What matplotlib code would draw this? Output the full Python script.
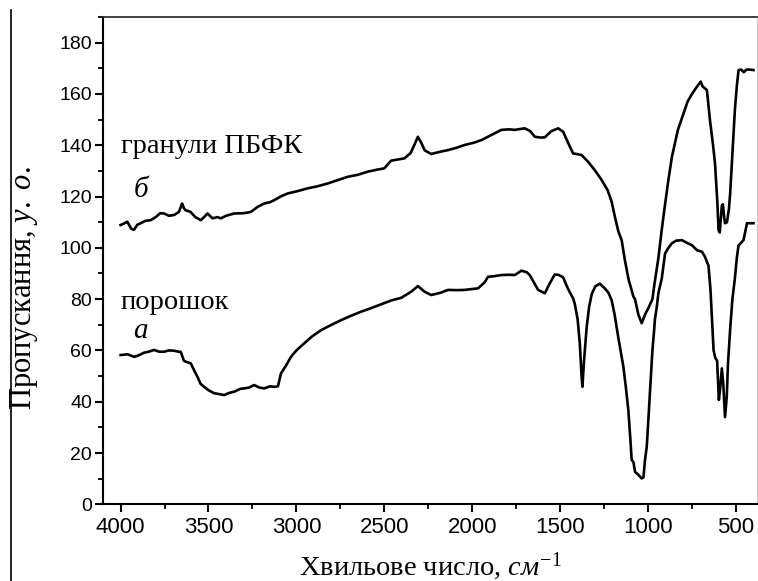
import matplotlib
matplotlib.use("Agg")
import matplotlib.pyplot as plt
from matplotlib.lines import Line2D
from matplotlib.ticker import MultipleLocator

# wavenumber (cm-1) / transmittance
wn_b = [4000, 3980, 3962, 3940, 3924, 3905, 3886, 3860, 3829, 3800, 3775, 3753, 3725, 3696,
        3668, 3650, 3640, 3631, 3602, 3575, 3544, 3525, 3506, 3477, 3450, 3430, 3400, 3354,
        3300, 3259, 3220, 3183, 3150, 3126, 3090, 3050, 3000, 2936, 2880, 2822, 2760, 2708,
        2650, 2594, 2540, 2500, 2461, 2420, 2385, 2350, 2330, 2309, 2290, 2270, 2233, 2180,
        2138, 2090, 2043, 1990, 1948, 1891, 1834, 1790, 1758, 1701, 1670, 1644, 1610, 1587,
        1550, 1511, 1483, 1455, 1426, 1400, 1378, 1340, 1303, 1264, 1230, 1207, 1188, 1169,
        1150, 1131, 1110, 1083, 1074, 1055, 1036, 1017, 998, 975, 961, 941, 922, 903, 884,
        864, 830, 800, 775, 750, 720, 700, 690, 665, 648, 630, 619, 605, 599, 592, 585, 580,
        574, 567, 562, 551, 540, 533, 520, 506, 495, 485, 470, 455, 440, 420, 400]
tr_b = [108.9, 109.5, 110.2, 107.5, 107, 109, 109.6, 110.5, 110.8, 112, 113.5, 113.4, 112.5, 112.8,
        114, 117.3, 115.5, 114.7, 114, 112, 110.8, 112, 113.4, 111.5, 112, 111.5, 112.5, 113.4,
        113.5, 114, 116, 117.3, 117.8, 118.6, 120, 121.2, 122, 123.2, 124, 125.1, 126.5, 127.7,
        128.5, 129.7, 130.5, 131, 134, 134.5, 134.9, 137, 140, 143.3, 141, 138, 136.6, 137.5,
        138.1, 139, 140.1, 141, 142, 144, 146, 146.2, 146, 146.6, 145.5, 143.3, 143, 143.1,
        145.5, 146.6, 145.3, 141, 136.8, 136.5, 136.2, 133.5, 130.3, 126.5, 122.5, 118, 112, 106.5,
        103, 95, 87.5, 81, 80, 74, 70.6, 74, 76.5, 80, 87, 96, 107, 117, 126.5,
        135.5, 146, 152, 157, 160, 163, 164.8, 163, 161.5, 150, 140, 133, 117, 107, 106, 112, 116.5,
        117, 112, 109.6, 110, 115, 121, 137, 153.7, 163, 169.3, 169.5, 168.5, 169.5, 169.5, 169.3]

wn_a = [4000, 3960, 3924, 3900, 3867, 3840, 3810, 3780, 3753, 3725, 3696, 3670, 3658, 3640,
        3629, 3601, 3580, 3563, 3545, 3525, 3500, 3468, 3440, 3411, 3380, 3354, 3320, 3297,
        3270, 3240, 3210, 3183, 3150, 3126, 3105, 3088, 3060, 3031, 3000, 2955, 2910, 2860,
        2800, 2746, 2690, 2632, 2575, 2518, 2460, 2404, 2347, 2309, 2271, 2233, 2180, 2138,
        2090, 2043, 1990, 1967, 1930, 1910, 1870, 1834, 1790, 1758, 1720, 1690, 1673, 1645,
        1625, 1605, 1587, 1560, 1531, 1510, 1483, 1455, 1426, 1417, 1400, 1388, 1378, 1373,
        1365, 1349, 1335, 1320, 1300, 1274, 1250, 1225, 1207, 1190, 1169, 1140, 1125, 1112,
        1100, 1093, 1083, 1074, 1055, 1036, 1026, 1017, 1007, 989, 975, 965, 961, 950, 941,
        922, 903, 884, 864, 840, 807, 780, 750, 720, 693, 676, 656, 645, 636, 627, 617, 607,
        597, 590, 580, 572, 562, 552, 545, 533, 520, 506, 495, 485, 470, 457, 445, 437, 420, 400]
tr_a = [58.2, 58.5, 57.5, 58, 59.1, 59.5, 60.2, 59.5, 59.5, 60, 59.9, 59.5, 59.5, 56,
        55.6, 55, 52, 49.7, 47, 45.8, 44.5, 43.3, 43, 42.6, 43.5, 43.9, 45, 45.2,
        45.5, 46.5, 45.5, 45.2, 46, 45.8, 46, 51, 54, 57.5, 60, 62.8, 65.5, 67.9,
        70, 71.8, 73.5, 75.1, 76.5, 78, 79.5, 80.5, 82.9, 85.1, 82.9, 81.6, 82.5, 83.6,
        83.5, 83.6, 84, 84.2, 86.5, 88.7, 89, 89.4, 89.5, 89.4, 91.1, 90.5, 89.4, 86,
        83.6, 82.9, 82.3, 86, 89.6, 89.5, 88.5, 84, 80.3, 78.3, 72, 62.7, 50, 45.8,
        55, 69, 77, 82, 85, 86, 84.5, 82.5, 79.6, 74, 65, 53.6, 45, 36.8,
        25, 17.3, 16.5, 12.7, 11.5, 10.1, 10.5, 17.3, 22.5, 43.3, 60, 68, 72, 77, 82.3,
        88, 97.8, 100, 101.8, 102.8, 103, 102, 101, 99, 98.5, 96.5, 93, 84, 72, 60, 57, 56,
        40.7, 45, 53, 47, 34, 42, 55, 68, 80, 88, 96, 101, 102, 103, 107, 109.6, 109.6, 109.6]

plt.rcParams["mathtext.fontset"] = "custom"
plt.rcParams["mathtext.rm"] = "Liberation Serif"
plt.rcParams["mathtext.it"] = "Liberation Serif:italic"

fig = plt.figure(figsize=(7.58, 5.81), dpi=100)
ax = fig.add_axes([0.1359, 0.132, 0.8628, 0.8387])

ax.plot(wn_b, tr_b, color="black", lw=1.9)
ax.plot(wn_a, tr_a, color="black", lw=1.9)

ax.set_xlim(4100, 380)
ax.set_ylim(0, 190)
ax.xaxis.set_major_locator(MultipleLocator(500))
ax.xaxis.set_minor_locator(MultipleLocator(250))
ax.yaxis.set_major_locator(MultipleLocator(20))
ax.yaxis.set_minor_locator(MultipleLocator(10))

ax.tick_params(which="major", direction="out", length=6, width=1.5, color="black")
ax.tick_params(which="minor", direction="out", length=3.5, width=1.3, color="black")
ax.tick_params(axis="x", labelsize=16, pad=3)
ax.tick_params(axis="y", labelsize=14, pad=2)
for lab in ax.get_xticklabels() + ax.get_yticklabels():
    lab.set_family("Liberation Sans")

ax.spines["left"].set_linewidth(1.5)
ax.spines["bottom"].set_linewidth(1.5)
ax.spines["top"].set_linewidth(1.3)
ax.spines["top"].set_color("#333333")
ax.spines["right"].set_linewidth(0.8)
ax.spines["right"].set_color("#cccccc")

ax.set_xlabel(r"Хвильове число, $\mathit{см}^{\mathit{-1}}$", family="Liberation Serif",
              fontsize=20.5, labelpad=9)
ax.set_ylabel(r"Пропускання, $\mathit{у.\ о.}$", family="Liberation Serif", fontsize=22)
ax.yaxis.set_label_coords(-0.097, 0.444)

ax.text(4000, 139.7, "гранули ПБФК", family="Liberation Serif", fontsize=20.5, va="center")
ax.text(3926, 122.6, "б", family="Liberation Serif", style="italic", fontsize=21, va="center")
ax.text(4000, 78.8, "порошок", family="Liberation Serif", fontsize=20.5, va="center")
ax.text(3926, 67.5, "а", family="Liberation Serif", style="italic", fontsize=21, va="center")

# thin frame line at the left edge of the scan
fig.add_artist(Line2D([11 / 758, 11 / 758], [0, 1 - 10 / 581], transform=fig.transFigure,
                      color="black", lw=1.2))

fig.savefig("out.png", dpi=100)
